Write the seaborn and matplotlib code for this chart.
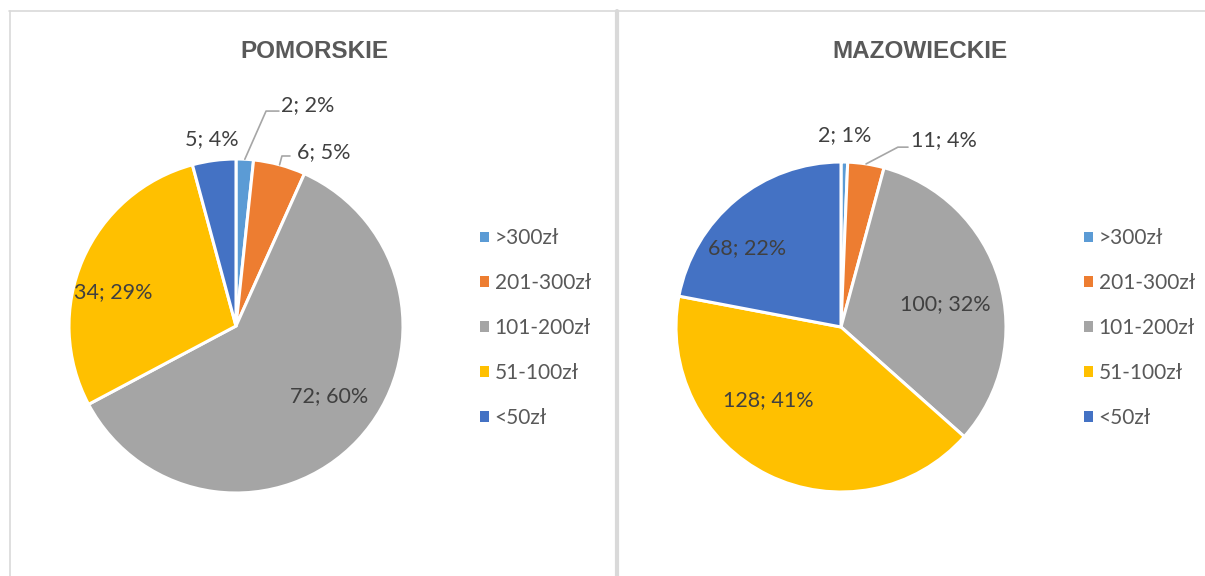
import matplotlib
matplotlib.use("Agg")
import matplotlib.pyplot as plt
import seaborn as sns
from matplotlib.patches import Patch
from matplotlib.lines import Line2D
import numpy as np

# data
categories = [">300zł", "201-300zł", "101-200zł", "51-100zł", "<50zł"]
pomorskie = [2, 6, 72, 34, 5]
pomorskie_pct = [2, 5, 60, 29, 4]
mazowieckie = [2, 11, 100, 128, 68]
mazowieckie_pct = [1, 4, 32, 41, 22]
titles = ["POMORSKIE", "MAZOWIECKIE"]

colors = ["#5B9BD5", "#ED7D31", "#A5A5A5", "#FFC000", "#4472C4"]

# label placement (pie radius units); leader = (bend x, bend y, end x) or None
pom_label_pos = [(0.431, 1.323), (0.527, 1.039), (0.557, -0.419), (-0.737, 0.204), (-0.144, 1.12)]
pom_leader = [(0.18, 1.287, 0.257), (0.275, 1.018, 0.323), None, None, None]
maz_label_pos = [(0.021, 1.161), (0.624, 1.13), (0.63, 0.139), (-0.442, -0.442), (-0.57, 0.479)]
maz_leader = [None, (0.345, 1.09, 0.406), None, None, None]

sns.set_theme(style="white")
plt.rcParams["font.family"] = ["Lato", "DejaVu Sans"]

W, H = 1205, 576
fig = plt.figure(figsize=(W / 100, H / 100), dpi=100)
fig.patch.set_facecolor("white")

# chart frames
border = "#d9d9d9"
fig.add_artist(Line2D([9 / W, 1], [1 - 10.5 / H] * 2, color=border, lw=1.2))
fig.add_artist(Line2D([9.5 / W] * 2, [0, 1 - 10.5 / H], color=border, lw=1.2))
fig.add_artist(Line2D([617 / W] * 2, [0, 1 - 10.5 / H], color=border, lw=3))


def draw_pie(cx, cy, r, values, pcts, title, label_pos, leaders, legend_x):
    ax = fig.add_axes([(cx - r) / W, (H - cy - r) / H, 2 * r / W, 2 * r / H])
    wedges, _ = ax.pie(values, colors=colors, startangle=90, counterclock=False,
                       wedgeprops=dict(edgecolor="white", linewidth=2.2))
    ax.set_xlim(-1, 1)
    ax.set_ylim(-1, 1)
    ax.set_aspect("equal")
    ax.axis("off")

    for w, v, p, (lx, ly), lead in zip(wedges, values, pcts, label_pos, leaders):
        ax.text(lx, ly, f"{v}; {p}%", ha="center", va="center", fontsize=15.5,
                color="#404040", clip_on=False)
        if lead is not None:
            mid = np.deg2rad((w.theta1 + w.theta2) / 2)
            bx, by, ex = lead
            ax.plot([np.cos(mid), bx, ex], [np.sin(mid), by, by], color="#a6a6a6",
                    lw=1.2, clip_on=False)

    fig.text((cx + 78.5) / W, 1 - 51 / H, title, ha="center", va="center",
             fontsize=17.5, fontweight="bold", color="#595959",
             family=["Liberation Sans", "DejaVu Sans"])

    handles = [Patch(facecolor=c, edgecolor="none") for c in colors]
    fig.legend(handles, categories, loc="center left",
               bbox_to_anchor=(legend_x / W, 1 - 328 / H), frameon=False,
               fontsize=15, labelcolor="#595959", handlelength=0.42,
               handleheight=0.42, handletextpad=0.28, labelspacing=1.19,
               borderaxespad=0, borderpad=0)


draw_pie(236, 326, 167, pomorskie, pomorskie_pct, titles[0], pom_label_pos, pom_leader, 480)
draw_pie(841, 327, 165, mazowieckie, mazowieckie_pct, titles[1], maz_label_pos, maz_leader, 1084)

fig.savefig("out.png", dpi=100, facecolor="white")
